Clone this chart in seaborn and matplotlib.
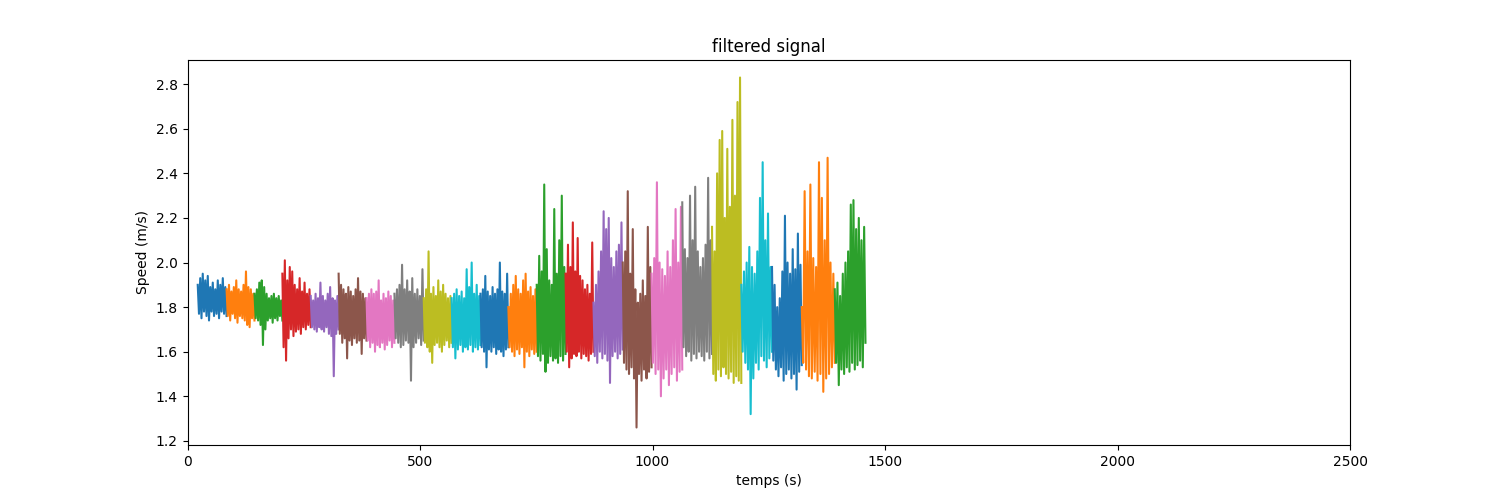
import numpy as np
import pandas as pd
import matplotlib
matplotlib.use("Agg")
import matplotlib.pyplot as plt
import seaborn as sns

# segment boundaries (s)
seg_start = [22, 84, 144, 204, 265, 325, 385, 445, 508, 568, 630, 690,
             751, 813, 873, 936, 998, 1064, 1128, 1191, 1257, 1321, 1392]
seg_last = 1458

# peaks / troughs of each segment (m/s)
s01 = [1.90, 1.77, 1.93, 1.75, 1.95, 1.78, 1.92, 1.76, 1.94, 1.74, 1.89, 1.78,
       1.91, 1.76, 1.88, 1.77, 1.92, 1.75, 1.90, 1.78, 1.93, 1.77, 1.89, 1.76]
s02 = [1.88, 1.76, 1.90, 1.74, 1.87, 1.77, 1.89, 1.75, 1.92, 1.73, 1.88, 1.76,
       1.87, 1.75, 1.90, 1.74, 1.96, 1.72, 1.89, 1.71, 1.88, 1.75, 1.86, 1.74]
s03 = [1.86, 1.75, 1.88, 1.74, 1.91, 1.72, 1.92, 1.63, 1.89, 1.70, 1.86, 1.74,
       1.84, 1.75, 1.85, 1.73, 1.86, 1.75, 1.84, 1.74, 1.85, 1.76, 1.83, 1.74]
s04 = [1.95, 1.62, 2.01, 1.56, 1.92, 1.66, 1.98, 1.70, 1.96, 1.67, 1.90, 1.69,
       1.88, 1.70, 1.93, 1.68, 1.87, 1.71, 1.91, 1.70, 1.86, 1.72, 1.88, 1.71]
s05 = [1.85, 1.71, 1.83, 1.70, 1.86, 1.69, 1.84, 1.71, 1.91, 1.70, 1.85, 1.69,
       1.83, 1.71, 1.86, 1.68, 1.89, 1.67, 1.84, 1.49, 1.83, 1.68, 1.85, 1.70]
s06 = [1.95, 1.68, 1.90, 1.64, 1.88, 1.66, 1.86, 1.57, 1.89, 1.65, 1.87, 1.63,
       1.85, 1.66, 1.88, 1.64, 1.93, 1.65, 1.87, 1.59, 1.86, 1.66, 1.84, 1.65]
s07 = [1.84, 1.65, 1.86, 1.62, 1.88, 1.64, 1.86, 1.60, 1.87, 1.63, 1.92, 1.62,
       1.83, 1.64, 1.86, 1.61, 1.84, 1.63, 1.87, 1.65, 1.85, 1.62, 1.83, 1.64]
s08 = [1.86, 1.66, 1.88, 1.64, 1.90, 1.62, 1.99, 1.63, 1.88, 1.65, 1.92, 1.64,
       1.87, 1.47, 1.93, 1.62, 1.86, 1.64, 1.88, 1.66, 1.85, 1.63, 1.97, 1.65]
s09 = [1.84, 1.64, 1.88, 1.62, 2.05, 1.60, 1.86, 1.55, 1.89, 1.63, 1.85, 1.64,
       1.92, 1.62, 1.87, 1.60, 1.90, 1.63, 1.86, 1.65, 1.84, 1.62, 1.85, 1.64]
s10 = [1.84, 1.62, 1.86, 1.57, 1.88, 1.61, 1.85, 1.63, 1.87, 1.60, 1.84, 1.62,
       1.97, 1.61, 1.89, 1.63, 2.00, 1.60, 1.86, 1.62, 1.90, 1.61, 1.85, 1.63]
s11 = [1.86, 1.62, 1.88, 1.60, 1.94, 1.53, 1.87, 1.61, 1.85, 1.60, 1.89, 1.62,
       1.86, 1.59, 1.88, 1.61, 2.00, 1.60, 1.87, 1.58, 1.86, 1.61, 1.95, 1.62]
s12 = [1.80, 1.62, 1.86, 1.60, 1.90, 1.58, 1.94, 1.61, 1.88, 1.59, 1.86, 1.62,
       1.92, 1.53, 1.95, 1.60, 1.87, 1.58, 1.89, 1.61, 1.85, 1.59, 1.88, 1.60]
s13 = [1.90, 1.58, 2.03, 1.56, 1.96, 1.59, 2.35, 1.51, 2.06, 1.55, 1.92, 1.58,
       1.90, 1.56, 2.24, 1.57, 1.95, 1.55, 2.10, 1.58, 2.30, 1.56, 1.98, 1.59]
s14 = [1.95, 1.60, 2.08, 1.53, 1.98, 1.57, 2.18, 1.59, 1.96, 1.58, 2.11, 1.60,
       1.94, 1.57, 1.92, 1.59, 1.88, 1.58, 1.90, 1.56, 1.86, 1.59, 2.09, 1.60]
s15 = [1.82, 1.58, 1.90, 1.55, 1.96, 1.60, 2.05, 1.57, 2.23, 1.59, 2.15, 1.56,
       2.20, 1.46, 2.02, 1.58, 1.98, 1.60, 2.05, 1.57, 2.08, 1.59, 2.18, 1.61]
s16 = [2.00, 1.55, 2.05, 1.52, 2.32, 1.50, 1.95, 1.53, 2.15, 1.48, 1.88, 1.26,
       1.82, 1.50, 1.86, 1.47, 1.92, 1.52, 1.85, 1.48, 2.16, 1.51, 1.98, 1.53]
s17 = [1.95, 1.55, 2.02, 1.50, 2.36, 1.52, 2.00, 1.40, 1.97, 1.48, 1.94, 1.52,
       2.05, 1.45, 1.98, 1.50, 2.10, 1.53, 2.24, 1.47, 2.00, 1.51, 2.25, 1.52]
s18 = [2.27, 1.62, 2.06, 1.58, 2.02, 1.60, 2.30, 1.56, 2.10, 1.59, 2.34, 1.57,
       2.05, 1.60, 1.98, 1.58, 2.02, 1.56, 2.08, 1.60, 2.38, 1.57, 2.10, 1.59]
s19 = [2.16, 1.50, 2.05, 1.47, 2.40, 1.52, 2.55, 1.49, 2.59, 1.53, 2.20, 1.50,
       2.51, 1.48, 2.25, 1.51, 2.64, 1.46, 2.30, 1.49, 2.72, 1.47, 2.83, 1.46]
s20 = [1.90, 1.60, 1.96, 1.55, 2.00, 1.52, 2.07, 1.32, 1.98, 1.48, 1.95, 1.55,
       2.05, 1.52, 2.29, 1.58, 2.45, 1.56, 2.10, 1.53, 2.22, 1.57, 1.98, 1.60]
s21 = [1.98, 1.56, 1.90, 1.52, 1.80, 1.49, 1.84, 1.53, 1.96, 1.47, 2.21, 1.50,
       2.00, 1.52, 1.95, 1.48, 2.06, 1.50, 1.97, 1.43, 2.13, 1.51, 1.99, 1.54]
s22 = [1.80, 1.55, 2.32, 1.52, 2.05, 1.49, 2.35, 1.48, 2.02, 1.51, 1.98, 1.47,
       2.45, 1.50, 2.29, 1.42, 2.10, 1.48, 2.47, 1.50, 2.00, 1.53, 1.95, 1.55]
s23 = [1.88, 1.55, 1.91, 1.45, 1.85, 1.52, 1.95, 1.50, 2.00, 1.53, 2.05, 1.51,
       2.26, 1.55, 2.28, 1.52, 2.15, 1.54, 2.20, 1.56, 2.10, 1.53, 2.16, 1.64]

segments = [s01, s02, s03, s04, s05, s06, s07, s08, s09, s10, s11, s12,
            s13, s14, s15, s16, s17, s18, s19, s20, s21, s22, s23]

seg_end = seg_start[1:] + [seg_last]
rows = []
for i, vals in enumerate(segments):
    t = np.linspace(seg_start[i], seg_end[i], len(vals))
    for tt, v in zip(t, vals):
        rows.append({"t": tt, "speed": v, "seg": f"seg{i + 1:02d}"})
df = pd.DataFrame(rows)

fig, ax = plt.subplots(figsize=(15, 5), dpi=100)
sns.lineplot(data=df, x="t", y="speed", hue="seg",
             palette=sns.color_palette("tab10", len(segments)),
             estimator=None, sort=False, legend=False, linewidth=1.5, ax=ax)
ax.set_xlim(0, 2500)
ax.set_title("filtered signal")
ax.set_xlabel("temps (s)")
ax.set_ylabel("Speed (m/s)")

fig.savefig("out.png", dpi=100)
